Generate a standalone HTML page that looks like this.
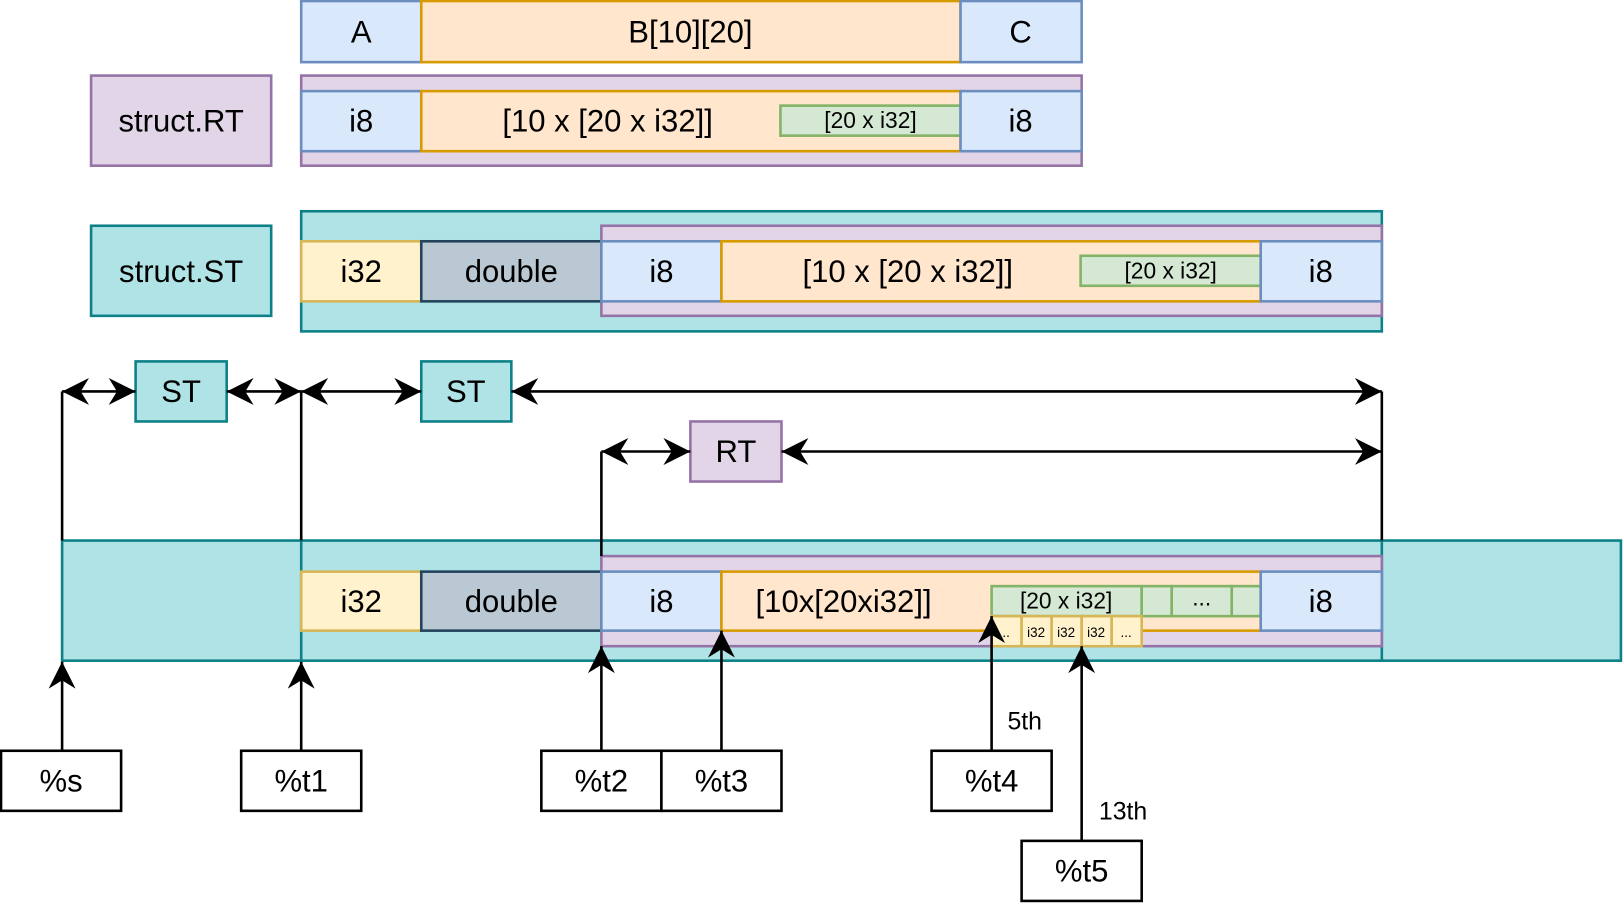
<!DOCTYPE html>
<html><head><meta charset="utf-8"><style>
html,body{margin:0;padding:0;background:#fff;}
svg{display:block;}
text{font-family:"Liberation Sans",sans-serif;fill:#000;text-anchor:middle;dominant-baseline:central;}
</style></head><body>
<svg width="1623" height="903" viewBox="0 0 1568 872" preserveAspectRatio="none" xmlns="http://www.w3.org/2000/svg">
<defs>
<marker id="ah" viewBox="0 0 26 28" refX="26" refY="14" markerWidth="26" markerHeight="28" markerUnits="userSpaceOnUse" orient="auto-start-reverse">
<path d="M0,1 L26,14 L0,27 L8,14 Z" fill="#000"/>
</marker>
</defs>
<g stroke-width="2.5">
<rect x="291" y="1" width="116" height="59" fill="#dae8fc" stroke="#6c8ebf"/>
<rect x="407" y="1" width="521" height="59" fill="#ffe6cc" stroke="#d79b00"/>
<rect x="928" y="1" width="117" height="59" fill="#dae8fc" stroke="#6c8ebf"/>
<rect x="88" y="73" width="174" height="87" fill="#e1d5e7" stroke="#9673a6"/>
<rect x="291" y="73" width="754" height="87" fill="#e1d5e7" stroke="#9673a6"/>
<rect x="291" y="88" width="116" height="58" fill="#dae8fc" stroke="#6c8ebf"/>
<rect x="407" y="88" width="521" height="58" fill="#ffe6cc" stroke="#d79b00"/>
<rect x="754" y="102" width="174" height="29" fill="#d5e8d4" stroke="#82b366"/>
<rect x="928" y="88" width="117" height="58" fill="#dae8fc" stroke="#6c8ebf"/>
<rect x="88" y="218" width="174" height="87" fill="#b0e3e6" stroke="#0e8088"/>
<rect x="291" y="204" width="1044" height="116" fill="#b0e3e6" stroke="#0e8088"/>
<rect x="581" y="218" width="754" height="87" fill="#e1d5e7" stroke="#9673a6"/>
<rect x="291" y="233" width="116" height="58" fill="#fff2cc" stroke="#d6b656"/>
<rect x="407" y="233" width="174" height="58" fill="#bac8d3" stroke="#23445d"/>
<rect x="581" y="233" width="116" height="58" fill="#dae8fc" stroke="#6c8ebf"/>
<rect x="697" y="233" width="521" height="58" fill="#ffe6cc" stroke="#d79b00"/>
<rect x="1044" y="247" width="174" height="29" fill="#d5e8d4" stroke="#82b366"/>
<rect x="1218" y="233" width="117" height="58" fill="#dae8fc" stroke="#6c8ebf"/>
<rect x="131" y="349" width="88" height="58" fill="#b0e3e6" stroke="#0e8088"/>
<rect x="407" y="349" width="87" height="58" fill="#b0e3e6" stroke="#0e8088"/>
<rect x="667" y="407" width="88" height="58" fill="#e1d5e7" stroke="#9673a6"/>
<rect x="60" y="522" width="1506" height="116" fill="#b0e3e6" stroke="#0e8088"/>
<line x1="291" y1="522" x2="291" y2="638" stroke="#0e8088"/>
<line x1="1335" y1="522" x2="1335" y2="638" stroke="#0e8088"/>
<rect x="581" y="537" width="754" height="87" fill="#e1d5e7" stroke="#9673a6"/>
<rect x="291" y="552" width="116" height="57" fill="#fff2cc" stroke="#d6b656"/>
<rect x="407" y="552" width="174" height="57" fill="#bac8d3" stroke="#23445d"/>
<rect x="581" y="552" width="116" height="57" fill="#dae8fc" stroke="#6c8ebf"/>
<rect x="697" y="552" width="521" height="57" fill="#ffe6cc" stroke="#d79b00"/>
<rect x="958" y="566" width="145" height="29" fill="#d5e8d4" stroke="#82b366"/>
<rect x="1103" y="566" width="29" height="29" fill="#d5e8d4" stroke="#82b366"/>
<rect x="1132" y="566" width="58" height="29" fill="#d5e8d4" stroke="#82b366"/>
<rect x="1190" y="566" width="28" height="29" fill="#d5e8d4" stroke="#82b366"/>
<rect x="1218" y="552" width="117" height="57" fill="#dae8fc" stroke="#6c8ebf"/>
<rect x="958" y="595" width="29" height="29" fill="#fff2cc" stroke="#d6b656"/>
<rect x="987" y="595" width="29" height="29" fill="#fff2cc" stroke="#d6b656"/>
<rect x="1016" y="595" width="29" height="29" fill="#fff2cc" stroke="#d6b656"/>
<rect x="1045" y="595" width="29" height="29" fill="#fff2cc" stroke="#d6b656"/>
<rect x="1074" y="595" width="29" height="29" fill="#fff2cc" stroke="#d6b656"/>
<rect x="1" y="725" width="116" height="58" fill="#fff" stroke="#000"/>
<rect x="233" y="725" width="116" height="58" fill="#fff" stroke="#000"/>
<rect x="523" y="725" width="116" height="58" fill="#fff" stroke="#000"/>
<rect x="639" y="725" width="116" height="58" fill="#fff" stroke="#000"/>
<rect x="900" y="725" width="116" height="58" fill="#fff" stroke="#000"/>
<rect x="987" y="812" width="116" height="58" fill="#fff" stroke="#000"/>
</g>
<g stroke="#000" stroke-width="2.5" fill="none">
<line x1="60" y1="378" x2="60" y2="522"/>
<line x1="291" y1="378" x2="291" y2="522"/>
<line x1="1335" y1="378" x2="1335" y2="522"/>
<line x1="581" y1="436" x2="581" y2="537"/>
<line x1="60" y1="378" x2="131" y2="378" marker-start="url(#ah)" marker-end="url(#ah)"/>
<line x1="219" y1="378" x2="291" y2="378" marker-start="url(#ah)" marker-end="url(#ah)"/>
<line x1="291" y1="378" x2="407" y2="378" marker-start="url(#ah)" marker-end="url(#ah)"/>
<line x1="494" y1="378" x2="1335" y2="378" marker-start="url(#ah)" marker-end="url(#ah)"/>
<line x1="581" y1="436" x2="667" y2="436" marker-start="url(#ah)" marker-end="url(#ah)"/>
<line x1="755" y1="436" x2="1335" y2="436" marker-start="url(#ah)" marker-end="url(#ah)"/>
<line x1="60" y1="725" x2="60" y2="639" marker-end="url(#ah)"/>
<line x1="291" y1="725" x2="291" y2="639" marker-end="url(#ah)"/>
<line x1="581" y1="725" x2="581" y2="624" marker-end="url(#ah)"/>
<line x1="697" y1="725" x2="697" y2="609" marker-end="url(#ah)"/>
<line x1="958" y1="725" x2="958" y2="595" marker-end="url(#ah)"/>
<line x1="1045" y1="812" x2="1045" y2="624" marker-end="url(#ah)"/>
</g>
<g font-size="30">
<text x="349" y="31">A</text>
<text x="667" y="31">B[10][20]</text>
<text x="986" y="31">C</text>
<text x="175" y="117">struct.RT</text>
<text x="349" y="117">i8</text>
<text x="587" y="117">[10 x [20 x i32]]</text>
<text x="986" y="117">i8</text>
<text x="175" y="262">struct.ST</text>
<text x="349" y="262">i32</text>
<text x="494" y="262">double</text>
<text x="639" y="262">i8</text>
<text x="877" y="262">[10 x [20 x i32]]</text>
<text x="1276" y="262">i8</text>
<text x="175" y="378">ST</text>
<text x="450" y="378">ST</text>
<text x="711" y="436">RT</text>
<text x="349" y="581">i32</text>
<text x="494" y="581">double</text>
<text x="639" y="581">i8</text>
<text x="815" y="581">[10x[20xi32]]</text>
<text x="1276" y="581">i8</text>
<text x="59" y="754">%s</text>
<text x="291" y="754">%t1</text>
<text x="581" y="754">%t2</text>
<text x="697" y="754">%t3</text>
<text x="958" y="754">%t4</text>
<text x="1045" y="841">%t5</text>
</g>
<g font-size="22">
<text x="841" y="116">[20 x i32]</text>
<text x="1131" y="261">[20 x i32]</text>
<text x="1030" y="580">[20 x i32]</text>
<text x="1161" y="577">...</text>
</g>
<g font-size="13">
<text x="972" y="611">..</text>
<text x="1001" y="611">i32</text>
<text x="1030" y="611">i32</text>
<text x="1059" y="611">i32</text>
<text x="1088" y="611">...</text>
</g>
<g font-size="24">
<text x="990" y="697">5th</text>
<text x="1085" y="784">13th</text>
</g>
</svg>
</body></html>
